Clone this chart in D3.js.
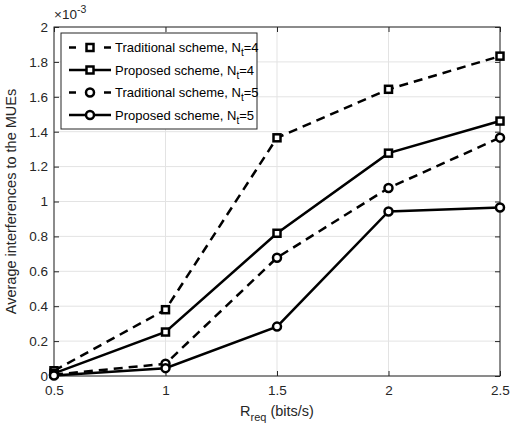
<!DOCTYPE html>
<html>
<head>
<meta charset="utf-8">
<script src="https://cdn.jsdelivr.net/npm/d3@7"></script>
<style>
body { margin: 0; background: #fff; }
svg { font-family: "Liberation Sans", Arial, sans-serif; }
</style>
</head>
<body>
<div id="chart"></div>
<script>
const rates = [0.5, 1, 1.5, 2, 2.5];
const tradNt4 = [0.03, 0.38, 1.365, 1.643, 1.833];
const propNt4 = [0.015, 0.252, 0.818, 1.277, 1.461];
const tradNt5 = [0.008, 0.07, 0.678, 1.077, 1.366];
const propNt5 = [0.003, 0.045, 0.283, 0.943, 0.966];
const xTicks = [0.5, 1, 1.5, 2, 2.5];
const yTicks = [0, 0.2, 0.4, 0.6, 0.8, 1, 1.2, 1.4, 1.6, 1.8, 2];

const seriesList = [
	{name: 'Traditional scheme, N', sub: 't', tail: '=4', values: tradNt4, dashed: true, marker: 'square'},
	{name: 'Proposed scheme, N', sub: 't', tail: '=4', values: propNt4, dashed: false, marker: 'square'},
	{name: 'Traditional scheme, N', sub: 't', tail: '=5', values: tradNt5, dashed: true, marker: 'circle'},
	{name: 'Proposed scheme, N', sub: 't', tail: '=5', values: propNt5, dashed: false, marker: 'circle'}
];

const width = 511, height = 424;
const margin = {top: 27, right: 11, bottom: 48, left: 54};
const innerW = width - margin.left - margin.right;
const innerH = height - margin.top - margin.bottom;

const svg = d3.select('#chart').append('svg')
	.attr('width', width)
	.attr('height', height)
	.append('g')
	.attr('transform', `translate(${margin.left}, ${margin.top})`);

const xScale = d3.scaleLinear().domain([0.5, 2.5]).range([0, innerW]);
const yScale = d3.scaleLinear().domain([0, 2]).range([innerH, 0]);

// grid
svg.append('g')
	.selectAll('line')
	.data(xTicks)
	.enter().append('line')
	.attr('x1', d => xScale(d)).attr('x2', d => xScale(d))
	.attr('y1', 0).attr('y2', innerH)
	.attr('stroke', '#e3e3e3');
svg.append('g')
	.selectAll('line')
	.data(yTicks)
	.enter().append('line')
	.attr('x1', 0).attr('x2', innerW)
	.attr('y1', d => yScale(d)).attr('y2', d => yScale(d))
	.attr('stroke', '#e3e3e3');

const styleAxis = g => {
	g.selectAll('path').attr('stroke', '#262626');
	g.selectAll('line').attr('stroke', '#262626');
	g.selectAll('text').attr('fill', '#262626').attr('font-size', 13.5);
};

svg.append('g')
	.attr('transform', `translate(0, ${innerH})`)
	.call(d3.axisBottom(xScale).tickValues(xTicks).tickSize(-5).tickSizeOuter(0).tickPadding(9).tickFormat(d3.format('')))
	.call(styleAxis);
svg.append('g')
	.call(d3.axisTop(xScale).tickValues(xTicks).tickSize(-5).tickSizeOuter(0).tickFormat(''))
	.call(styleAxis);
svg.append('g')
	.call(d3.axisLeft(yScale).tickValues(yTicks).tickSize(-5).tickSizeOuter(0).tickPadding(6).tickFormat(d3.format('')))
	.call(styleAxis);
svg.append('g')
	.attr('transform', `translate(${innerW}, 0)`)
	.call(d3.axisRight(yScale).tickValues(yTicks).tickSize(-5).tickSizeOuter(0).tickFormat(''))
	.call(styleAxis);
svg.selectAll('.domain').remove();
svg.append('rect')
	.attr('width', innerW).attr('height', innerH)
	.attr('fill', 'none').attr('stroke', '#262626');

// exponent
const expo = svg.append('text')
	.attr('x', 0).attr('y', -8)
	.attr('font-size', 13.5).attr('fill', '#262626');
expo.append('tspan').text('\u00d710');
expo.append('tspan').attr('font-size', 10.5).attr('dy', -6).text('-3');

// axis titles
const xt = svg.append('text')
	.attr('x', innerW / 2).attr('y', innerH + 40)
	.attr('text-anchor', 'middle').attr('font-size', 14.5).attr('fill', '#262626');
xt.append('tspan').text('R');
xt.append('tspan').attr('font-size', 11).attr('dy', 5).text('req');
xt.append('tspan').attr('dy', -5).text(' (bits/s)');

svg.append('text')
	.attr('transform', `translate(-38, ${innerH / 2}) rotate(-90)`)
	.attr('text-anchor', 'middle').attr('font-size', 14.5).attr('fill', '#262626')
	.text('Average interferences to the MUEs');

const line = d3.line()
	.x((d, i) => xScale(rates[i]))
	.y(d => yScale(d));

const drawMarker = (g, type, x, y) => {
	if (type === 'square') {
		g.append('rect')
			.attr('x', x - 3.5).attr('y', y - 3.5)
			.attr('width', 7).attr('height', 7)
			.attr('fill', '#fff').attr('stroke', '#000').attr('stroke-width', 2.5);
	} else {
		g.append('circle')
			.attr('cx', x).attr('cy', y).attr('r', 4)
			.attr('fill', '#fff').attr('stroke', '#000').attr('stroke-width', 2.5);
	}
};

seriesList.forEach(s => {
	svg.append('path')
		.datum(s.values)
		.attr('d', line)
		.attr('fill', 'none')
		.attr('stroke', '#000')
		.attr('stroke-width', 2.5)
		.attr('stroke-dasharray', s.dashed ? '9,6' : null);
	const mg = svg.append('g');
	s.values.forEach((v, i) => drawMarker(mg, s.marker, xScale(rates[i]), yScale(v)));
});

// legend
const legend = svg.append('g').attr('transform', 'translate(7, 6)');
legend.append('rect')
	.attr('width', 196).attr('height', 96)
	.attr('fill', '#fff').attr('stroke', '#262626');
seriesList.forEach((s, i) => {
	const y = 14.5 + i * 22.5;
	legend.append('line')
		.attr('x1', 8).attr('x2', 50).attr('y1', y).attr('y2', y)
		.attr('stroke', '#000').attr('stroke-width', 2.5)
		.attr('stroke-dasharray', s.dashed ? '7,28' : null);
	drawMarker(legend, s.marker, 29, y);
	const t = legend.append('text')
		.attr('x', 54).attr('y', y + 4.5)
		.attr('font-size', 13).attr('fill', '#000');
	t.append('tspan').text(s.name);
	t.append('tspan').attr('font-size', 10).attr('dy', 4).text(s.sub);
	t.append('tspan').attr('dy', -4).text(s.tail);
});
</script>
</body>
</html>
